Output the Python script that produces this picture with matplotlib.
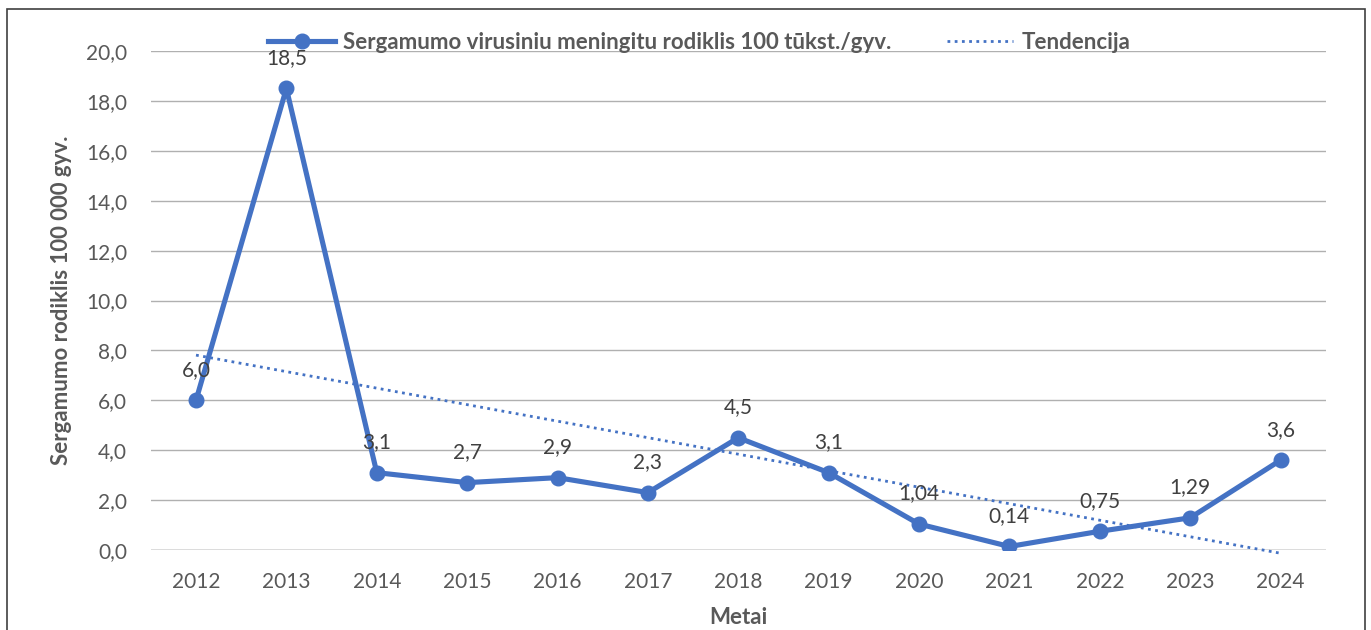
import numpy as np
import matplotlib
matplotlib.use("Agg")
import matplotlib.pyplot as plt
from matplotlib.patches import Rectangle

years = ["2012", "2013", "2014", "2015", "2016", "2017", "2018",
         "2019", "2020", "2021", "2022", "2023", "2024"]
rates = [6.0, 18.5, 3.1, 2.7, 2.9, 2.3, 4.5, 3.1, 1.04, 0.14, 0.75, 1.29, 3.6]
labels = ["6,0", "18,5", "3,1", "2,7", "2,9", "2,3", "4,5", "3,1",
          "1,04", "0,14", "0,75", "1,29", "3,6"]

series_name = "Sergamumo virusiniu meningitu rodiklis 100 tūkst./gyv."
trend_name = "Tendencija"

plt.rcParams["font.family"] = ["Lato", "DejaVu Sans"]
blue = "#4472C4"
grey = "#595959"

fig = plt.figure(figsize=(13.71, 6.3), dpi=100)
ax = fig.add_axes([0.110, 0.127, 0.857, 0.792])

x = np.arange(len(years))
ax.plot(x, rates, color=blue, lw=3.7, marker="o", ms=10.5, label=series_name,
        solid_joinstyle="round", zorder=3)

# linear trend like in Excel
k, b = np.polyfit(x, rates, 1)
ax.plot(x, k * x + b, color=blue, lw=2, ls=(0, (1, 1.6)), label=trend_name,
        clip_on=False, zorder=2)

for xi, yi, t in zip(x, rates, labels):
    ax.annotate(t, (xi, yi), xytext=(0, 22), textcoords="offset points",
                ha="center", va="center", fontsize=15, color="#404040")

ax.set_xlim(-0.5, len(years) - 0.5)
ax.set_ylim(0, 20)
ax.set_yticks(np.arange(0, 21, 2))
ax.set_yticklabels([f"{v:.1f}".replace(".", ",") for v in np.arange(0, 21, 2)])
ax.set_xticks(x)
ax.set_xticklabels(years)
ax.tick_params(length=0, labelsize=15, labelcolor=grey, pad=16)
ax.tick_params(axis="y", pad=17)
ax.grid(axis="y", color="#B0B0B0", lw=1)
ax.set_axisbelow(True)
for s in ax.spines.values():
    s.set_visible(False)
ax.axhline(0, color="#D9D9D9", lw=1.2, zorder=1)

ax.set_ylabel("Sergamumo rodiklis 100 000 gyv.", fontsize=16, fontweight="bold",
              color=grey, labelpad=10)
ax.set_xlabel("Metai", fontsize=16, fontweight="bold", color=grey, labelpad=11)

leg = fig.legend(loc="center", bbox_to_anchor=(0.51, 0.933), ncol=2, frameon=False,
                 handlelength=3.0, columnspacing=2.5, handletextpad=0.35,
                 prop={"weight": "bold", "size": 16})
for t in leg.get_texts():
    t.set_color(grey)

# chart frame (bottom cut off in the original)
fig.add_artist(Rectangle((7 / 1371, -0.05), 1358 / 1371, 1 - 9 / 630 + 0.05,
                         transform=fig.transFigure, fill=False, ec="#404040", lw=1.2))

fig.savefig("out.png", dpi=100)
